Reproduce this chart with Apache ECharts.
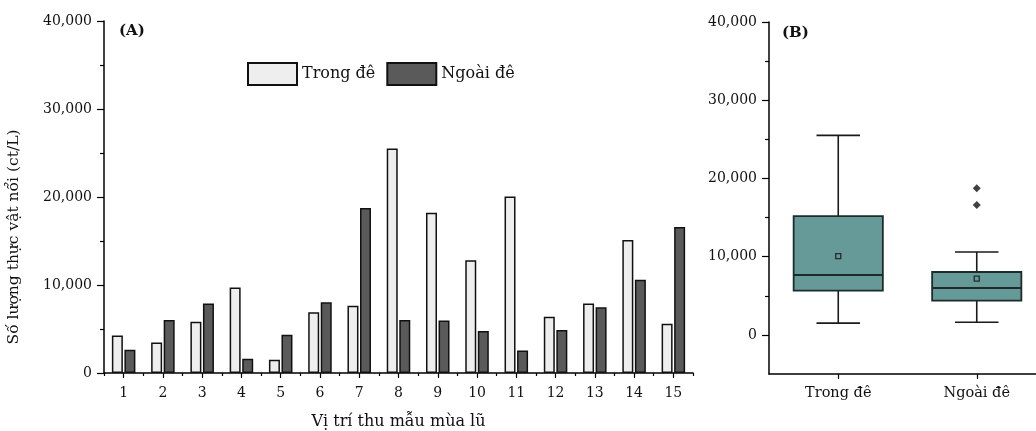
<!DOCTYPE html>
<html>
<head>
<meta charset="utf-8">
<script src="https://cdn.jsdelivr.net/npm/echarts@6/dist/echarts.min.js"></script>
<style>
  html, body { margin: 0; padding: 0; background: #fff; }
  #chart { width: 1036px; height: 431px; }
</style>
</head>
<body>
<div id="chart"></div>
<script>
// Sampling sites (flood season) and phytoplankton density (ct/L)
const categories = ['1','2','3','4','5','6','7','8','9','10','11','12','13','14','15'];
const trongDe = [4270, 3480, 5830, 9730, 1510, 6890, 7650, 25500, 18220, 12800, 20070, 6400, 7910, 15110, 5600];
const ngoaiDe = [2650, 6020, 7910, 1625, 4350, 8030, 18750, 6020, 5980, 4770, 2570, 4880, 7460, 10600, 16590];

// Box plot summary: [min, Q1, median, Q3, max]
const boxGroups = ['Trong đê', 'Ngoài đê'];
const boxStats = [
  [1510, 5660, 7650, 15180, 25500],
  [1625, 4390, 6000, 8040, 10600]
];
const boxMeans = [10070, 7200];
const outlierGroup = [1, 1];
const outlierValues = [18750, 16590];

const majorTicks = [0, 10000, 20000, 30000, 40000];
const minorTicksB = [5000, 15000, 25000, 35000];

const FONT = 'DejaVu Serif';
const fmt = v => Number(v).toLocaleString('en-US');
const axisLine = { show: true, onZero: false, lineStyle: { color: '#000', width: 1.5 } };
const tickStyle = { color: '#000', width: 1.2 };

const chart = echarts.init(document.getElementById('chart'), null, { renderer: 'canvas' });

const boxData = boxStats.map((s, i) => [i].concat(s));

chart.setOption({
  animation: false,
  backgroundColor: '#fff',
  textStyle: { fontFamily: FONT },
  grid: [
    { left: 104, top: 21, width: 589, height: 352, outerBoundsMode: 'none', containLabel: false },
    { left: 769, top: 22, width: 277, height: 352, outerBoundsMode: 'none', containLabel: false }
  ],
  legend: {
    left: 247, top: 62, padding: 0,
    icon: 'rect',
    itemWidth: 49, itemHeight: 22, itemGap: 11,
    textStyle: { fontFamily: FONT, fontSize: 16, color: '#111' },
    data: ['Trong đê', 'Ngoài đê']
  },
  xAxis: [
    {
      gridIndex: 0, type: 'category', data: categories,
      axisLine: axisLine,
      axisTick: { show: true, length: 3, lineStyle: tickStyle },
      axisLabel: { fontFamily: FONT, fontSize: 14, color: '#111', margin: 13 },
      name: 'Vị trí thu mẫu mùa lũ', nameLocation: 'middle', nameGap: 41,
      nameTextStyle: { fontFamily: FONT, fontSize: 16, color: '#111' }
    },
    {
      gridIndex: 0, type: 'category', data: categories, position: 'bottom',
      axisLine: { show: false, onZero: false },
      axisTick: { show: true, alignWithLabel: true, length: 5, lineStyle: tickStyle },
      axisLabel: { show: false }
    },
    {
      gridIndex: 1, type: 'category', data: boxGroups, position: 'bottom',
      axisLine: axisLine,
      axisTick: { show: true, alignWithLabel: true, length: 5, lineStyle: tickStyle },
      axisLabel: { fontFamily: FONT, fontSize: 14.5, color: '#111', margin: 12 }
    }
  ],
  yAxis: [
    {
      gridIndex: 0, type: 'value', min: 0, max: 40000, interval: 10000,
      axisLine: axisLine,
      axisTick: { show: true, length: 7, lineStyle: tickStyle },
      minorTick: { show: true, splitNumber: 2, length: 4, lineStyle: tickStyle },
      splitLine: { show: false },
      axisLabel: { fontFamily: FONT, fontSize: 14, color: '#111', margin: 12, formatter: fmt }
    },
    {
      gridIndex: 1, type: 'value', min: -5000, max: 40000,
      axisLine: axisLine,
      axisTick: { show: true, length: 7, customValues: majorTicks, lineStyle: tickStyle },
      splitLine: { show: false },
      axisLabel: { fontFamily: FONT, fontSize: 14, color: '#111', margin: 12, customValues: majorTicks, formatter: fmt }
    },
    {
      gridIndex: 1, type: 'value', min: -5000, max: 40000, position: 'left',
      axisLine: { show: false, onZero: false },
      axisTick: { show: true, length: 4, customValues: minorTicksB, lineStyle: tickStyle },
      splitLine: { show: false },
      axisLabel: { show: false, customValues: minorTicksB }
    }
  ],
  graphic: [
    { type: 'text', left: 119, top: 24, style: { text: '(A)', font: 'bold 15px "' + FONT + '"', fill: '#111' } },
    { type: 'text', left: 782, top: 26, style: { text: '(B)', font: 'bold 15px "' + FONT + '"', fill: '#111' } },
    {
      type: 'text', x: 14, y: 237, rotation: Math.PI / 2,
      style: { text: 'Số lượng thực vật nổi (ct/L)', font: '15.5px "' + FONT + '"', fill: '#111', align: 'center', verticalAlign: 'middle' }
    }
  ],
  series: [
    {
      name: 'Trong đê', type: 'bar', xAxisIndex: 0, yAxisIndex: 0,
      data: trongDe, barWidth: 11, barGap: '14%',
      itemStyle: { color: '#eeeeee', borderColor: '#111', borderWidth: 1.5 }
    },
    {
      name: 'Ngoài đê', type: 'bar', xAxisIndex: 0, yAxisIndex: 0,
      data: ngoaiDe, barWidth: 11, barGap: '14%',
      itemStyle: { color: '#5a5a5a', borderColor: '#111', borderWidth: 1.5 }
    },
    {
      type: 'custom', xAxisIndex: 2, yAxisIndex: 1,
      data: boxData,
      encode: { x: 0, y: [1, 2, 3, 4, 5] },
      renderItem: function (params, api) {
        const idx = api.value(0);
        const band = api.size([1, 0])[0];
        const boxHalf = band * 0.322;
        const capHalf = band * 0.157;
        const pMin = api.coord([idx, api.value(1)]);
        const pQ1 = api.coord([idx, api.value(2)]);
        const pMed = api.coord([idx, api.value(3)]);
        const pQ3 = api.coord([idx, api.value(4)]);
        const pMax = api.coord([idx, api.value(5)]);
        const cx = pMed[0];
        const line = { stroke: '#1a1a1a', lineWidth: 1.6 };
        return {
          type: 'group',
          children: [
            { type: 'line', shape: { x1: cx, y1: pMax[1], x2: cx, y2: pQ3[1] }, style: line },
            { type: 'line', shape: { x1: cx, y1: pQ1[1], x2: cx, y2: pMin[1] }, style: line },
            { type: 'line', shape: { x1: cx - capHalf, y1: pMax[1], x2: cx + capHalf, y2: pMax[1] }, style: line },
            { type: 'line', shape: { x1: cx - capHalf, y1: pMin[1], x2: cx + capHalf, y2: pMin[1] }, style: line },
            {
              type: 'rect',
              shape: { x: cx - boxHalf, y: pQ3[1], width: boxHalf * 2, height: pQ1[1] - pQ3[1] },
              style: { fill: '#669a98', stroke: '#1f2a2a', lineWidth: 1.8 }
            },
            { type: 'line', shape: { x1: cx - boxHalf, y1: pMed[1], x2: cx + boxHalf, y2: pMed[1] }, style: { stroke: '#1f2a2a', lineWidth: 2 } }
          ]
        };
      },
      z: 2
    },
    {
      type: 'scatter', xAxisIndex: 2, yAxisIndex: 1,
      data: boxMeans.map((m, i) => [i, m]),
      symbol: 'rect', symbolSize: 5,
      itemStyle: { color: 'rgba(0,0,0,0)', borderColor: '#111', borderWidth: 1.3 },
      z: 5
    },
    {
      type: 'scatter', xAxisIndex: 2, yAxisIndex: 1,
      data: outlierValues.map((v, i) => [outlierGroup[i], v]),
      symbol: 'diamond', symbolSize: 8,
      itemStyle: { color: '#111' },
      z: 5
    }
  ]
});
</script>
</body>
</html>
